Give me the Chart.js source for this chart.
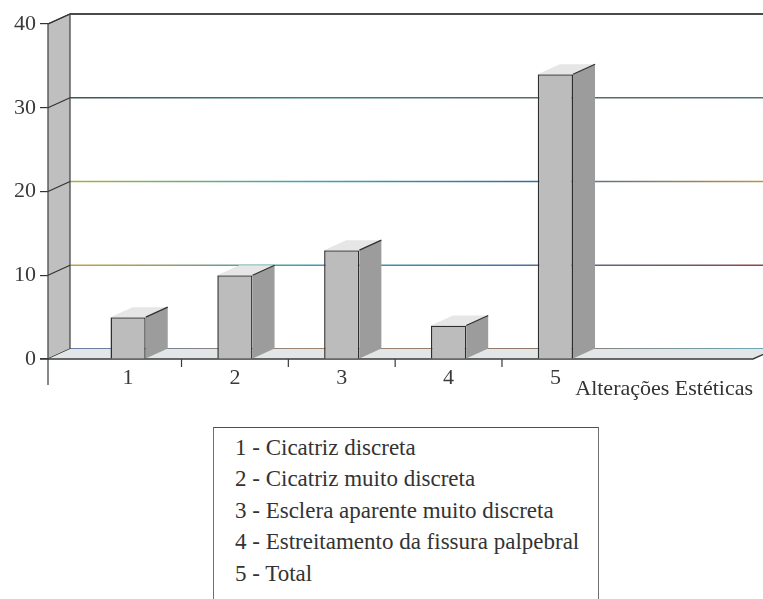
<!DOCTYPE html>
<html>
<head>
<meta charset="utf-8">
<script src="https://cdn.jsdelivr.net/npm/chart.js@4"></script>
<style>
  html, body { margin: 0; padding: 0; background: #fff; }
  body { width: 763px; height: 599px; position: relative; overflow: hidden; font-family: "Liberation Serif", "DejaVu Serif", serif; }
  #chart { position: absolute; left: 0; top: 0; }
  #legend {
    position: absolute; left: 213px; top: 427px; width: 386px; height: 200px;
    box-sizing: border-box; border: 1px solid #707070; border-top-color: #5c4c3c;
    padding: 3.5px 0 0 21px; color: #333; font-size: 23px; line-height: 31.5px;
  }
</style>
</head>
<body>
<canvas id="chart" width="763" height="405"></canvas>
<div id="legend"></div>
<script>
const categories = ['1', '2', '3', '4', '5'];
const counts = [5, 10, 13, 4, 34];
const yTicks = [0, 10, 20, 30, 40];
const legendLabels = [
  'Cicatriz discreta',
  'Cicatriz muito discreta',
  'Esclera aparente muito discreta',
  'Estreitamento da fissura palpebral',
  'Total'
];
const axisTitle = 'Alterações Estéticas';

const serif = "'Liberation Serif', 'DejaVu Serif', serif";

// 3D depth offset of the back wall
const DX = 22, DY = -10;

// scanned gridlines pick up odd colours, fake it with gradients
const gridColors = {
  0: ['#34548a', '#7a5a40', '#6a4a3a', '#3f8aa0'],
  10: ['#c9a040', '#3f9fb0', '#4a70a0', '#8f4646'],
  20: ['#a9b040', '#3fa8a8', '#3a6aa0', '#c09040'],
  30: ['#3f5656', '#3a7f80', '#5a6a6a', '#4f7272']
};

document.getElementById('legend').innerHTML = categories
  .map((c, i) => `<div>${c} - ${legendLabels[i]}</div>`).join('');

const depthPlugin = {
  id: 'depth',
  beforeDatasetsDraw(chart) {
    const { ctx, chartArea: a, scales: { x, y } } = chart;
    const W = chart.width;
    ctx.save();

    // back wall gridlines
    yTicks.forEach(v => {
      const py = y.getPixelForValue(v) + DY;
      if (v === yTicks[yTicks.length - 1]) {
        ctx.strokeStyle = '#4a4a4a';
        ctx.lineWidth = 2;
      } else {
        const g = ctx.createLinearGradient(a.left + DX, 0, W, 0);
        const cols = gridColors[v];
        cols.forEach((c, i) => g.addColorStop(i / (cols.length - 1), c));
        ctx.strokeStyle = g;
        ctx.lineWidth = 1.7;
      }
      ctx.beginPath();
      ctx.moveTo(a.left + DX, py);
      ctx.lineTo(W, py);
      ctx.stroke();
    });

    // left wall
    ctx.fillStyle = '#bfbfbf';
    ctx.beginPath();
    ctx.moveTo(a.left, a.bottom);
    ctx.lineTo(a.left, a.top);
    ctx.lineTo(a.left + DX, a.top + DY);
    ctx.lineTo(a.left + DX, a.bottom + DY);
    ctx.closePath();
    ctx.fill();
    ctx.strokeStyle = '#4a4a4a';
    ctx.lineWidth = 1.3;
    ctx.stroke();

    // slanted ticks on the left wall
    ctx.strokeStyle = '#333';
    ctx.lineWidth = 1.2;
    yTicks.forEach(v => {
      const py = y.getPixelForValue(v);
      ctx.beginPath();
      ctx.moveTo(a.left, py);
      ctx.lineTo(a.left + DX, py + DY);
      ctx.stroke();
    });

    // floor
    ctx.fillStyle = '#e2e6e6';
    ctx.beginPath();
    ctx.moveTo(a.left, a.bottom);
    ctx.lineTo(a.right, a.bottom);
    ctx.lineTo(a.right + DX, a.bottom + DY);
    ctx.lineTo(a.left + DX, a.bottom + DY);
    ctx.closePath();
    ctx.fill();
    ctx.strokeStyle = '#3a3a3a';
    ctx.lineWidth = 1.4;
    ctx.beginPath();
    ctx.moveTo(a.left - 8, a.bottom);
    ctx.lineTo(a.right, a.bottom);
    ctx.lineTo(a.right + DX, a.bottom + DY);
    ctx.stroke();

    // x axis tick marks at category boundaries
    ctx.lineWidth = 1.2;
    ctx.beginPath();
    ctx.moveTo(a.left, a.bottom);
    ctx.lineTo(a.left, a.bottom + 26);
    for (let i = 1; i < categories.length; i++) {
      const px = x.getPixelForValue(i + 0.5);
      ctx.moveTo(px, a.bottom);
      ctx.lineTo(px, a.bottom + 8);
    }
    ctx.stroke();
    ctx.restore();
  },
  afterDatasetsDraw(chart) {
    const { ctx } = chart;
    ctx.save();
    ctx.strokeStyle = '#2e2e2e';
    ctx.lineWidth = 1.2;
    chart.getDatasetMeta(0).data.forEach(bar => {
      const l = bar.x - bar.width / 2, r = bar.x + bar.width / 2;
      // side
      ctx.fillStyle = '#9c9c9c';
      ctx.beginPath();
      ctx.moveTo(r, bar.y);
      ctx.lineTo(r + DX, bar.y + DY);
      ctx.lineTo(r + DX, bar.base + DY);
      ctx.lineTo(r, bar.base);
      ctx.closePath();
      ctx.fill();
      // top
      ctx.fillStyle = '#e6e6e6';
      ctx.beginPath();
      ctx.moveTo(l, bar.y);
      ctx.lineTo(l + DX, bar.y + DY);
      ctx.lineTo(r + DX, bar.y + DY);
      ctx.lineTo(r, bar.y);
      ctx.closePath();
      ctx.fill();
      ctx.beginPath();
      ctx.moveTo(r, bar.y);
      ctx.lineTo(r + DX, bar.y + DY);
      ctx.stroke();
    });
    ctx.restore();
  }
};

new Chart(document.getElementById('chart').getContext('2d'), {
  type: 'bar',
  data: {
    datasets: [{
      data: counts.map((v, i) => ({ x: i + 1, y: v })),
      backgroundColor: '#bcbcbc',
      borderColor: '#2e2e2e',
      borderWidth: 1.5,
      categoryPercentage: 0.33,
      barPercentage: 1
    }]
  },
  options: {
    responsive: false,
    animation: false,
    devicePixelRatio: 1,
    layout: { padding: { top: 24, right: 10, left: 0, bottom: 0 } },
    plugins: { legend: { display: false }, tooltip: { enabled: false } },
    scales: {
      x: {
        type: 'linear',
        offset: false,
        min: 0.25,
        max: 6.85,
        afterBuildTicks: s => { s.ticks = categories.map((c, i) => ({ value: i + 1 })); },
        afterFit: s => { s.height = 46; },
        grid: { display: false, drawTicks: false, offset: false },
        border: { display: false },
        ticks: {
          autoSkip: false, maxRotation: 0, padding: 6,
          color: '#3a3a3a',
          font: { family: serif, size: 22 },
          callback: v => categories[v - 1]
        },
        title: {
          display: true, text: axisTitle, align: 'end', color: '#333',
          font: { family: serif, size: 22 },
          padding: { top: 0, bottom: 3 }
        }
      },
      y: {
        min: 0,
        max: 40,
        afterBuildTicks: s => { s.ticks = yTicks.map(v => ({ value: v })); },
        afterFit: s => { s.width = 48; },
        grid: { drawOnChartArea: false, drawTicks: true, tickLength: 8, tickColor: '#333', lineWidth: 1.2 },
        border: { display: false },
        ticks: {
          color: '#3a3a3a', padding: 4,
          font: { family: serif, size: 22 }
        }
      }
    }
  },
  plugins: [depthPlugin]
});
</script>
</body>
</html>
